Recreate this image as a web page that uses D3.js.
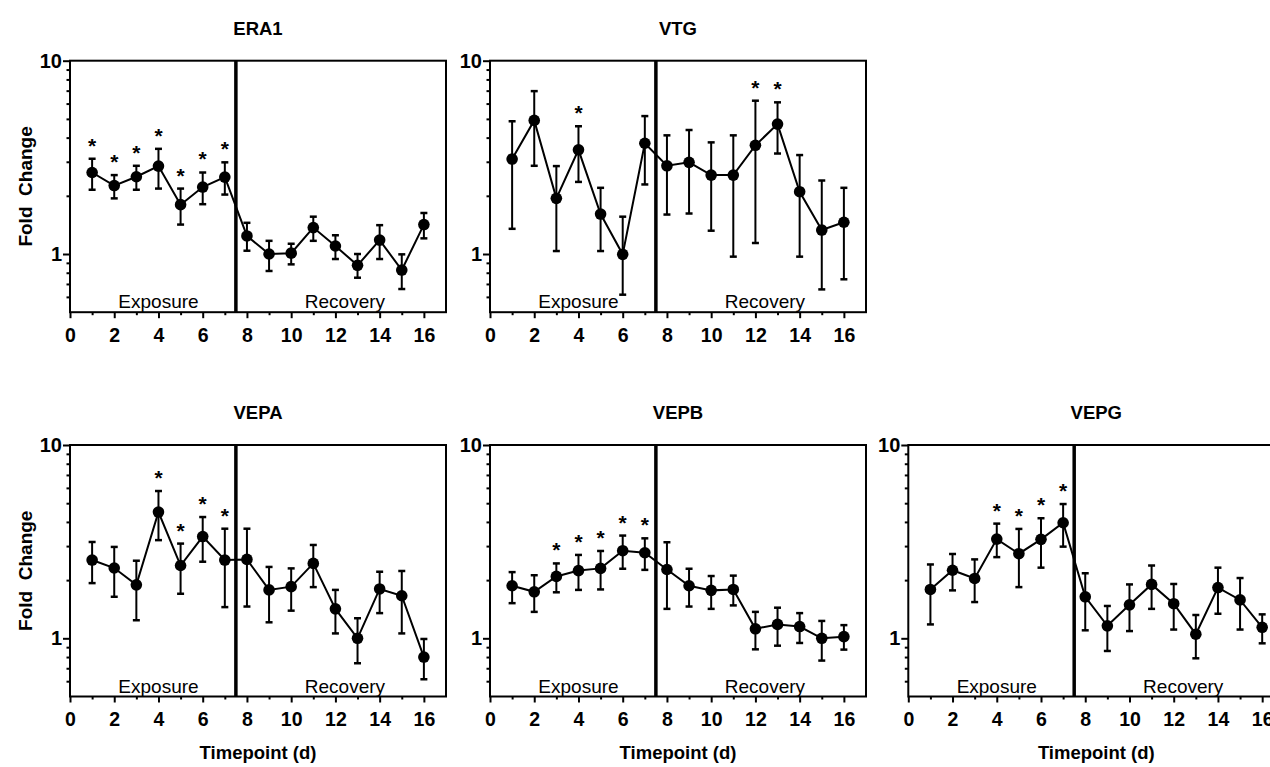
<!DOCTYPE html>
<html>
<head>
<meta charset="utf-8">
<script src="https://cdn.jsdelivr.net/npm/d3@7"></script>
<style>
  html, body { margin: 0; padding: 0; background: #fff; overflow: hidden; }
  text { font-family: "Liberation Sans", Arial, sans-serif; }
</style>
</head>
<body>
<svg id="fig" width="1270" height="767"></svg>
<script>
// Sampling days (exposure days 1-7, recovery days 8-16)
const days = d3.range(1, 17);
const xMajorTicks = [0, 2, 4, 6, 8, 10, 12, 14, 16];
const xMinorTicks = [1, 3, 5, 7, 9, 11, 13, 15];
const yMajorTicks = [1, 10];
const yMinorTicks = [0.6, 0.7, 0.8, 0.9, 2, 3, 4, 5, 6, 7, 8, 9];
const phaseLabels = ["Exposure", "Recovery"];
const phaseLabelX = [4, 12.43];

// Mean fold change with upper / lower error limits per gene
const era1Mean  = [2.64, 2.26, 2.51, 2.85, 1.80, 2.22, 2.50, 1.24, 1.00, 1.01, 1.37, 1.10, 0.874, 1.18, 0.826, 1.42];
const era1Upper = [3.11, 2.56, 2.86, 3.50, 2.18, 2.64, 2.98, 1.45, 1.17, 1.13, 1.56, 1.25, 1.00, 1.41, 0.996, 1.63];
const era1Lower = [2.15, 1.94, 2.15, 2.18, 1.42, 1.81, 2.03, 1.04, 0.817, 0.884, 1.17, 0.942, 0.754, 0.942, 0.659, 1.205];
const era1Sig   = [1, 2, 3, 4, 5, 6, 7];

const vtgMean  = [3.10, 4.91, 1.94, 3.46, 1.61, 0.996, 3.74, 2.86, 2.98, 2.56, 2.56, 3.65, 4.70, 2.10, 1.33, 1.46];
const vtgUpper = [4.86, 6.96, 2.85, 4.58, 2.20, 1.56, 5.17, 4.11, 4.38, 3.78, 4.11, 6.21, 6.09, 3.25, 2.40, 2.20];
const vtgLower = [1.35, 2.86, 1.036, 2.36, 1.036, 0.616, 2.29, 1.60, 1.62, 1.32, 0.969, 1.14, 3.31, 0.969, 0.656, 0.740];
const vtgSig   = [4, 12, 13];

const vepaMean  = [2.54, 2.31, 1.89, 4.50, 2.38, 3.36, 2.54, 2.56, 1.78, 1.85, 2.44, 1.42, 1.00, 1.80, 1.66, 0.80];
const vepaUpper = [3.15, 2.97, 2.52, 5.78, 3.09, 4.24, 3.69, 3.69, 2.34, 2.30, 3.04, 1.78, 1.27, 2.21, 2.23, 0.992];
const vepaLower = [1.93, 1.64, 1.24, 3.22, 1.70, 2.49, 1.45, 1.46, 1.21, 1.39, 1.84, 1.06, 0.743, 1.35, 1.06, 0.614];
const vepaSig   = [4, 5, 6, 7];

const vepbMean  = [1.87, 1.74, 2.09, 2.24, 2.30, 2.84, 2.77, 2.27, 1.87, 1.77, 1.79, 1.12, 1.18, 1.15, 1.00, 1.02];
const vepbUpper = [2.20, 2.12, 2.44, 2.70, 2.83, 3.40, 3.29, 3.14, 2.29, 2.10, 2.11, 1.37, 1.44, 1.35, 1.23, 1.17];
const vepbLower = [1.52, 1.37, 1.73, 1.78, 1.79, 2.29, 2.26, 1.42, 1.46, 1.42, 1.48, 0.877, 0.916, 0.946, 0.767, 0.874];
const vepbSig   = [3, 4, 5, 6, 7];

const vepgMean  = [1.79, 2.25, 2.04, 3.26, 2.74, 3.25, 3.96, 1.64, 1.16, 1.49, 1.90, 1.51, 1.05, 1.83, 1.58, 1.14];
const vepgUpper = [2.41, 2.73, 2.56, 3.92, 3.68, 4.18, 4.95, 2.17, 1.47, 1.90, 2.38, 1.91, 1.32, 2.32, 2.05, 1.33];
const vepgLower = [1.18, 1.77, 1.54, 2.63, 1.84, 2.32, 2.98, 1.10, 0.86, 1.09, 1.42, 1.11, 0.788, 1.34, 1.11, 0.942];
const vepgSig   = [4, 5, 6, 7];

const panels = [
  { title: "ERA1", mean: era1Mean, upper: era1Upper, lower: era1Lower, sig: era1Sig, col: 0, row: 0 },
  { title: "VTG",  mean: vtgMean,  upper: vtgUpper,  lower: vtgLower,  sig: vtgSig,  col: 1, row: 0 },
  { title: "VEPA", mean: vepaMean, upper: vepaUpper, lower: vepaLower, sig: vepaSig, col: 0, row: 1 },
  { title: "VEPB", mean: vepbMean, upper: vepbUpper, lower: vepbLower, sig: vepbSig, col: 1, row: 1 },
  { title: "VEPG", mean: vepgMean, upper: vepgUpper, lower: vepgLower, sig: vepgSig, col: 2, row: 1 }
];

// Layout
const colLeft = [70, 490, 908.3];
const rowTop = [60.7, 445];
const plotW = 376;
const plotH = 251.5;
const font = '"Liberation Sans", Arial, sans-serif';

const svg = d3.select("#fig");

panels.forEach(p => {
  const left = colLeft[p.col], top = rowTop[p.row];
  const g = svg.append("g").attr("transform", `translate(${left},${top})`);

  const x = d3.scaleLinear().domain([0, 17]).range([0, plotW]);
  const y = d3.scaleLog().domain([0.5, 10]).range([plotH, 0]);

  // x axis: labelled even days, short ticks on odd days
  const xAxisMajor = d3.axisBottom(x).tickValues(xMajorTicks).tickSize(6).tickSizeOuter(0)
    .tickPadding(10).tickFormat(d3.format("d"));
  const xAxisMinor = d3.axisBottom(x).tickValues(xMinorTicks).tickSize(3).tickSizeOuter(0).tickFormat("");
  const gx = g.append("g").attr("transform", `translate(0,${plotH})`).call(xAxisMajor);
  const gx2 = g.append("g").attr("transform", `translate(0,${plotH})`).call(xAxisMinor);
  [gx, gx2].forEach(a => {
    a.select(".domain").remove();
    a.selectAll(".tick line").attr("stroke", "#000").attr("stroke-width", 2);
  });
  gx.selectAll(".tick text")
    .attr("font-family", font).attr("font-size", 19.5).attr("font-weight", "bold").attr("fill", "#000");

  // y axis: log scale, decades labelled, minor ticks between
  const yAxisMajor = d3.axisLeft(y).tickValues(yMajorTicks).tickSize(7).tickSizeOuter(0)
    .tickPadding(1).tickFormat(d3.format("d"));
  const yAxisMinor = d3.axisLeft(y).tickValues(yMinorTicks).tickSize(3.5).tickSizeOuter(0).tickFormat("");
  const gy = g.append("g").call(yAxisMajor);
  const gy2 = g.append("g").call(yAxisMinor);
  [gy, gy2].forEach(a => {
    a.select(".domain").remove();
    a.selectAll(".tick line").attr("stroke", "#000").attr("stroke-width", 2);
  });
  gy.selectAll(".tick text")
    .attr("font-family", font).attr("font-size", 20).attr("font-weight", "bold").attr("fill", "#000");

  // Frame
  g.append("rect").attr("x", 0).attr("y", 0).attr("width", plotW).attr("height", plotH)
    .attr("fill", "none").attr("stroke", "#000").attr("stroke-width", 2);

  // Exposure / recovery divider
  g.append("line")
    .attr("x1", x(7.5)).attr("x2", x(7.5)).attr("y1", 0).attr("y2", plotH)
    .attr("stroke", "#000").attr("stroke-width", 3.5);

  // Phase labels
  g.selectAll("text.phase").data(phaseLabels).join("text")
    .attr("class", "phase")
    .attr("x", (d, i) => x(phaseLabelX[i]))
    .attr("y", plotH - 4)
    .attr("text-anchor", "middle")
    .attr("font-family", font).attr("font-size", 19)
    .attr("fill", "#000")
    .text(d => d);

  const pts = days.map((d, i) => ({ day: d, mean: p.mean[i], upper: p.upper[i], lower: p.lower[i] }));

  // Connecting line
  g.append("path").datum(pts)
    .attr("fill", "none").attr("stroke", "#000").attr("stroke-width", 2)
    .attr("d", d3.line().x(d => x(d.day)).y(d => y(d.mean)));

  // Error bars
  const eb = g.append("g");
  eb.selectAll("line.bar").data(pts).join("line").attr("class", "bar")
    .attr("x1", d => x(d.day)).attr("x2", d => x(d.day))
    .attr("y1", d => y(d.upper)).attr("y2", d => y(d.lower))
    .attr("stroke", "#000").attr("stroke-width", 2);
  ["upper", "lower"].forEach(k => {
    eb.selectAll("line.cap-" + k).data(pts).join("line").attr("class", "cap-" + k)
      .attr("x1", d => x(d.day) - 3.5).attr("x2", d => x(d.day) + 3.5)
      .attr("y1", d => y(d[k])).attr("y2", d => y(d[k]))
      .attr("stroke", "#000").attr("stroke-width", 2.5);
  });

  // Means
  g.selectAll("circle").data(pts).join("circle")
    .attr("cx", d => x(d.day)).attr("cy", d => y(d.mean)).attr("r", 5.8)
    .attr("fill", "#000");

  // Significance marks
  g.selectAll("text.sig").data(pts.filter(d => p.sig.includes(d.day))).join("text")
    .attr("class", "sig")
    .attr("x", d => x(d.day)).attr("y", d => y(d.upper) - 6)
    .attr("text-anchor", "middle")
    .attr("font-family", font).attr("font-size", 21).attr("font-weight", "bold").attr("fill", "#000")
    .text("*");

  // Title
  g.append("text")
    .attr("x", plotW / 2).attr("y", -26)
    .attr("text-anchor", "middle")
    .attr("font-family", font).attr("font-size", 18.5).attr("font-weight", "bold")
    .text(p.title);

  if (p.col === 0) {
    g.append("text")
      .attr("transform", `translate(-38,${plotH / 2}) rotate(-90)`)
      .attr("text-anchor", "middle")
      .attr("font-family", font).attr("font-size", 19).attr("font-weight", "bold")
      .style("white-space", "pre")
      .text("Fold  Change");
  }
  if (p.row === 1) {
    g.append("text")
      .attr("x", plotW / 2).attr("y", plotH + 62)
      .attr("text-anchor", "middle")
      .attr("font-family", font).attr("font-size", 18.5).attr("font-weight", "bold")
      .text("Timepoint (d)");
  }
});
</script>
</body>
</html>
